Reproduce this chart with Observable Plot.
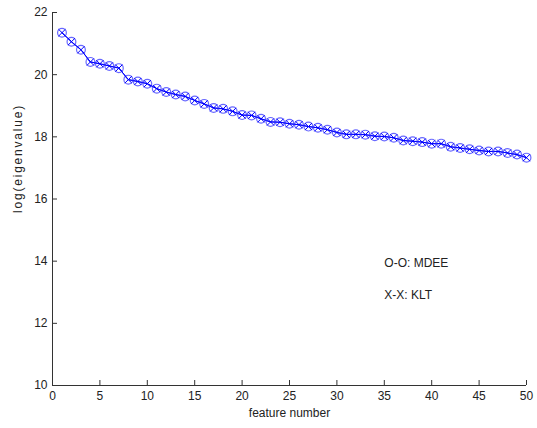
<!DOCTYPE html>
<html>
<head>
<meta charset="utf-8">
<script src="https://cdn.jsdelivr.net/npm/d3@7"></script>
<script src="https://cdn.jsdelivr.net/npm/@observablehq/plot@0.6"></script>
<style>
  html, body { margin: 0; padding: 0; background: #fff; }
  #chart svg { display: block; }
</style>
</head>
<body>
<div id="chart"></div>
<script>
// Feature numbers 1..50
const featureNumbers = [1,2,3,4,5,6,7,8,9,10,11,12,13,14,15,16,17,18,19,20,21,22,23,24,25,26,27,28,29,30,31,32,33,34,35,36,37,38,39,40,41,42,43,44,45,46,47,48,49,50];
// MDEE (O-O) log eigenvalues
const mdeeValues = [21.35,21.06,20.80,20.41,20.35,20.28,20.21,19.84,19.78,19.71,
                    19.55,19.44,19.36,19.30,19.17,19.06,18.93,18.90,18.82,18.70,
                    18.69,18.58,18.48,18.47,18.42,18.39,18.33,18.29,18.23,18.14,
                    18.08,18.08,18.07,18.02,18.01,17.97,17.88,17.86,17.83,17.78,
                    17.78,17.68,17.64,17.60,17.56,17.53,17.53,17.48,17.43,17.33];
// KLT (X-X) log eigenvalues (coincide with MDEE in the picture)
const kltValues = [21.35,21.06,20.80,20.41,20.35,20.28,20.21,19.84,19.78,19.71,
                   19.55,19.44,19.36,19.30,19.17,19.06,18.93,18.90,18.82,18.70,
                   18.69,18.58,18.48,18.47,18.42,18.39,18.33,18.29,18.23,18.14,
                   18.08,18.08,18.07,18.02,18.01,17.97,17.88,17.86,17.83,17.78,
                   17.78,17.68,17.64,17.60,17.56,17.53,17.53,17.48,17.43,17.33];
const xTicks = [0,5,10,15,20,25,30,35,40,45,50];
const yTicks = [10,12,14,16,18,20,22];
const xDomain = [0, 50];
const yDomain = [10, 22];
const annotationLabels = ["O-O: MDEE", "X-X: KLT"];
const annotationX = [35, 35];
const annotationY = [13.95, 12.92];
const xLabel = "feature number";
const yLabel = "log(eigenvalue)";

const mdee = featureNumbers.map((f, i) => ({f, v: mdeeValues[i]}));
const klt = featureNumbers.map((f, i) => ({f, v: kltValues[i]}));
const notes = annotationLabels.map((t, i) => ({t, x: annotationX[i], y: annotationY[i]}));

const axisColor = "#333";
const font = "Arial, 'Liberation Sans', Helvetica, sans-serif";

const chart = Plot.plot({
  width: 537,
  height: 428,
  marginLeft: 52,
  marginRight: 11,
  marginTop: 12,
  marginBottom: 43,
  style: {fontFamily: font, fontSize: "12px", color: "#222", background: "#fff"},
  x: {domain: xDomain, label: null},
  y: {domain: yDomain, label: null},
  marks: [
    // axis lines
    Plot.ruleX([xDomain[0]], {stroke: axisColor}),
    Plot.ruleY([yDomain[0]], {stroke: axisColor}),
    // inward tick marks
    Plot.axisX(xTicks, {anchor: "bottom", tickSize: 5, dy: -5, text: null, stroke: axisColor}),
    Plot.axisY(yTicks, {anchor: "left", tickSize: 5, dx: 5, text: null, stroke: axisColor}),
    // tick labels
    Plot.axisX(xTicks, {anchor: "bottom", tickSize: 0, tickPadding: 6, label: null, fill: "#222", fontSize: 12}),
    Plot.axisY(yTicks, {anchor: "left", tickSize: 0, tickPadding: 5, label: null, fill: "#222", fontSize: 12}),
    // axis titles
    Plot.text([xLabel], {frameAnchor: "bottom", dy: 31, text: d => d, fill: "#222", fontSize: 12}),
    Plot.text([yLabel], {frameAnchor: "left", dx: -34, dy: 14, rotate: -90, text: d => d, fill: "#222", fontSize: 12, className: "ylab"}),
    // series lines
    Plot.line(klt, {x: "f", y: "v", stroke: "#0000ff", strokeWidth: 1}),
    Plot.line(mdee, {x: "f", y: "v", stroke: "#0000ff", strokeWidth: 1}),
    // markers
    Plot.dot(mdee, {x: "f", y: "v", r: 4.4, stroke: "#2a2aff", strokeOpacity: 0.7, strokeWidth: 1.2, fill: "none"}),
    Plot.dot(klt, {x: "f", y: "v", symbol: "times", r: 3.3, stroke: "#0000ff", strokeWidth: 1}),
    // annotations
    Plot.text(notes, {x: "x", y: "y", text: "t", textAnchor: "start", fill: "#222", fontSize: 12})
  ]
});

d3.select(chart).selectAll("g.ylab text").style("letter-spacing", "1.8px");
document.getElementById("chart").appendChild(chart);
</script>
</body>
</html>
